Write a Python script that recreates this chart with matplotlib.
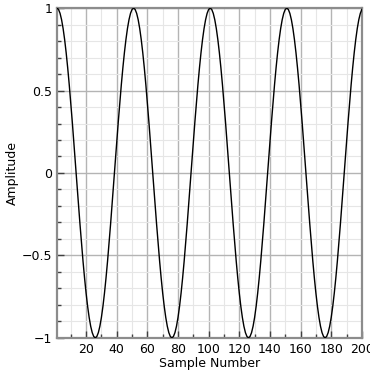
import numpy as np
import matplotlib.pyplot as plt
from matplotlib.ticker import MultipleLocator, FixedLocator

# signal: cosine, 200 samples, period 50, amplitude 1
n_samples = 200
period = 50
amplitude = 1.0
samples = np.arange(1, n_samples + 1)
signal = amplitude * np.cos(2 * np.pi * (samples - 1) / period)

x_ticks = [20, 40, 60, 80, 100, 120, 140, 160, 180, 200]
y_ticks = [-1, -0.5, 0, 0.5, 1]
y_labels = ['\u22121', '\u22120.5', '0', '0.5', '1']

fig = plt.figure(figsize=(3.7, 3.7), dpi=100)
ax = fig.add_axes([0.154, 0.087, 0.824, 0.891])

ax.plot(samples, signal, color='black', linewidth=1.0, zorder=3)

ax.set_xlim(1, 200)
ax.set_ylim(-1, 1)
ax.xaxis.set_major_locator(FixedLocator(x_ticks))
ax.xaxis.set_minor_locator(MultipleLocator(10))
ax.set_yticks(y_ticks)
ax.set_yticklabels(y_labels)
ax.yaxis.set_minor_locator(MultipleLocator(0.1))

ax.grid(which='major', color='#b4b4b4', linewidth=1.0)
ax.grid(which='minor', color='#e6e6e6', linewidth=0.8)
ax.set_axisbelow(True)

for side in ['left', 'bottom', 'top', 'right']:
    ax.spines[side].set_color('#8c8c8c')
    ax.spines[side].set_linewidth(1.6)
ax.tick_params(which='both', direction='in', colors='#404040',
               labelcolor='black', labelsize=9, top=False, right=False)
ax.tick_params(which='major', length=5, width=1)
ax.tick_params(which='minor', length=3, width=1)

ax.set_xlabel('Sample Number', fontsize=9, labelpad=1)
ax.set_ylabel('Amplitude', fontsize=9, labelpad=2)

plt.savefig('out.png', dpi=100)
